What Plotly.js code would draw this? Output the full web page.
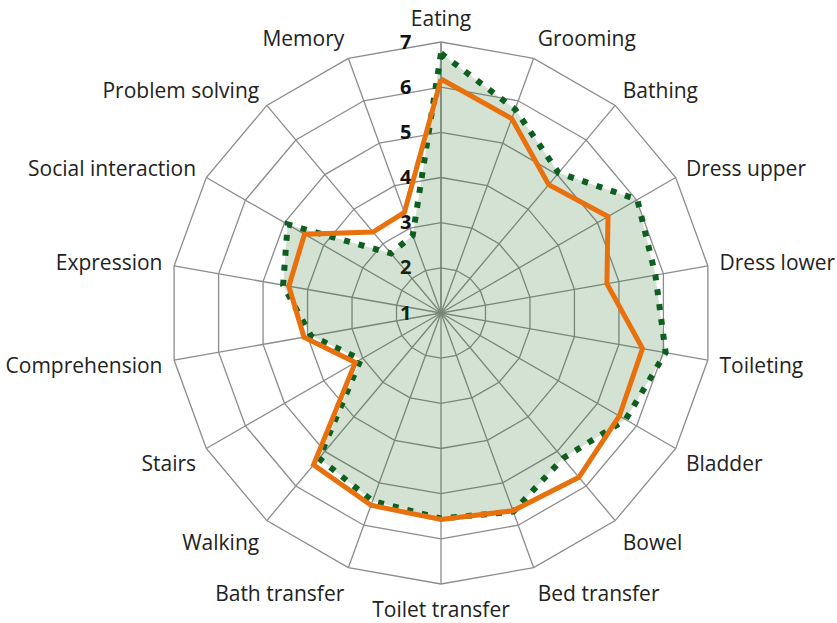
<!DOCTYPE html>
<html>
<head>
<meta charset="utf-8">
<script src="https://cdn.plot.ly/plotly-3.0.1.min.js"></script>
<style>html,body{margin:0;padding:0;background:#fff;}#chart{width:837px;height:623px;}</style>
</head>
<body>
<div id="chart"></div>
<script>
const categories = ["Eating","Grooming","Bathing","Dress upper","Dress lower","Toileting","Bladder","Bowel","Bed transfer","Toilet transfer","Bath transfer","Walking","Stairs","Comprehension","Expression","Social interaction","Problem solving","Memory"];
const seriesGreen = [6.75, 5.8, 5.05, 6.02, 5.82, 6.05, 5.72, 5.2, 5.68, 5.55, 5.43, 5.2, 3.05, 3.92, 4.55, 4.92, 2.72, 2.83];
const seriesOrange = [6.18, 5.58, 4.71, 5.27, 4.73, 5.53, 5.56, 5.75, 5.66, 5.57, 5.53, 5.39, 3.19, 4.08, 4.42, 4.49, 3.34, 3.37];
const radialTicks = [1, 2, 3, 4, 5, 6, 7];

const close = a => a.concat([a[0]]);
const FONT = '"Open Sans", "DejaVu Sans", sans-serif';
const GRID = '#8c8c8c';

const data = [
  {
    type: 'scatterpolar',
    r: close(seriesGreen),
    theta: close(categories),
    mode: 'lines',
    fill: 'toself',
    fillcolor: 'rgba(40,110,40,0.2)',
    line: {color: '#0e5f1f', width: 6, dash: '6px,9px'},
    hoverinfo: 'skip'
  },
  {
    type: 'scatterpolar',
    r: close(seriesOrange),
    theta: close(categories),
    mode: 'lines',
    line: {color: '#e8700d', width: 5},
    hoverinfo: 'skip'
  }
];

const layout = {
  width: 837,
  height: 623,
  margin: {l: 0, r: 0, t: 0, b: 0},
  paper_bgcolor: '#ffffff',
  showlegend: false,
  font: {family: FONT, color: '#222'},
  polar: {
    domain: {x: [170/837, 712/837], y: [1 - 584/623, 1 - 42/623]},
    bgcolor: 'rgba(0,0,0,0)',
    gridshape: 'linear',
    angularaxis: {
      rotation: 90,
      direction: 'clockwise',
      gridcolor: GRID,
      gridwidth: 1.3,
      linecolor: GRID,
      linewidth: 1.3,
      showline: true,
      ticks: 'outside',
      ticklen: 7,
      tickcolor: 'rgba(0,0,0,0)',
      tickfont: {family: FONT, size: 21, color: '#222'},
      layer: 'below traces'
    },
    radialaxis: {
      range: [1, 7],
      tickvals: radialTicks,
      ticktext: radialTicks.map(String),
      angle: 90,
      tickangle: 90,
      side: 'counterclockwise',
      showline: true,
      linecolor: GRID,
      linewidth: 1.3,
      gridcolor: GRID,
      gridwidth: 1.3,
      ticks: 'outside',
      ticklen: 22,
      tickcolor: 'rgba(0,0,0,0)',
      tickfont: {family: FONT, size: 20, color: '#111', weight: 'bold'},
      layer: 'below traces'
    }
  }
};

Plotly.newPlot('chart', data, layout, {displayModeBar: false, staticPlot: true});
</script>
</body>
</html>
